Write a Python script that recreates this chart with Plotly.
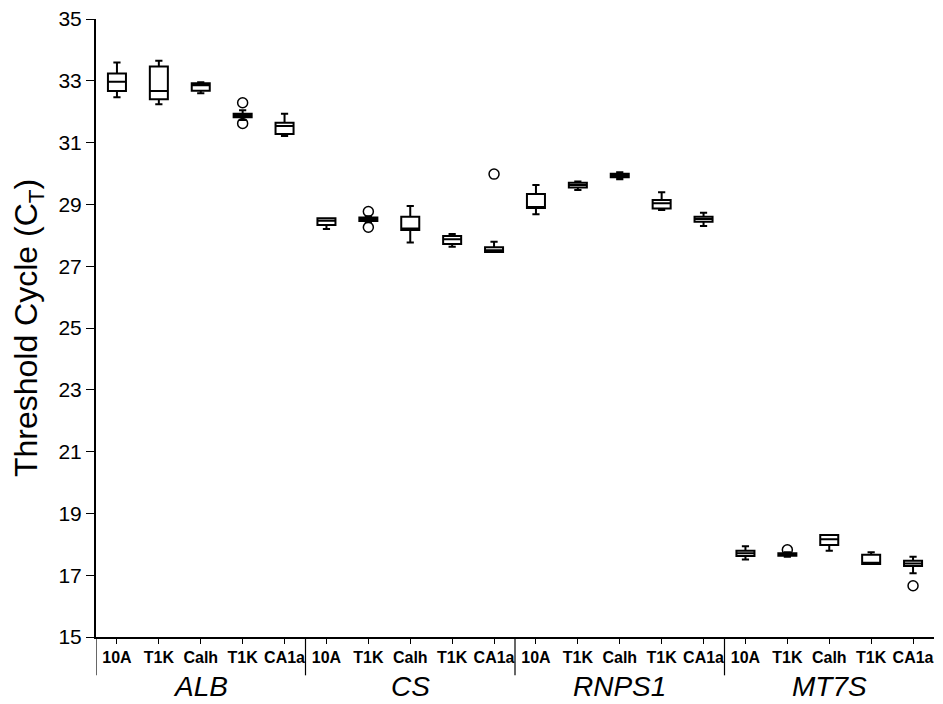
import plotly.graph_objects as go

groups = ["ALB", "CS", "RNPS1", "MT7S"]
cell_lines = ["10A", "T1K", "Calh", "T1K", "CA1a"]

# Box statistics per box (4 genes x 5 cell lines)
upper = [33.59, 33.65, 32.95, 32.05, 31.93,
         28.55, 28.62, 28.95, 28.04, 27.79,
         29.63, 29.74, 30.04, 29.39, 28.73,
         17.94, 17.74, 18.30, 17.74, 17.60]
q3 = [33.24, 33.46, 32.92, 31.93, 31.64,
      28.55, 28.58, 28.60, 27.98, 27.61,
      29.34, 29.70, 29.99, 29.14, 28.60,
      17.79, 17.71, 18.30, 17.66, 17.47]
median = [32.97, 32.67, 32.86, 31.87, 31.54,
          28.47, 28.52, 28.22, 27.87, 27.52,
          28.91, 29.63, 29.94, 29.04, 28.53,
          17.71, 17.67, 18.16, 17.40, 17.38]
q1 = [32.67, 32.40, 32.68, 31.82, 31.28,
      28.33, 28.46, 28.17, 27.72, 27.46,
      28.88, 29.55, 29.88, 28.87, 28.44,
      17.62, 17.63, 17.98, 17.36, 17.30]
lower = [32.47, 32.24, 32.60, 31.73, 31.21,
         28.20, 28.42, 27.77, 27.63, 27.46,
         28.68, 29.47, 29.81, 28.82, 28.30,
         17.51, 17.60, 17.79, 17.36, 17.06]

outlier_x = [3, 3, 6, 6, 9, 16, 19]
outlier_y = [32.29, 31.62, 28.77, 28.26, 29.98, 17.82, 16.66]

positions = list(range(len(q1)))
tick_text = cell_lines * len(groups)

fig = go.Figure()
fig.add_trace(go.Box(
    x=positions, q1=q1, median=median, q3=q3,
    lowerfence=lower, upperfence=upper,
    width=0.43, whiskerwidth=0.4,
    fillcolor="white", line=dict(color="black", width=2),
    boxpoints=False, showlegend=False, hoverinfo="skip",
))
fig.add_trace(go.Scatter(
    x=outlier_x, y=outlier_y, mode="markers",
    marker=dict(symbol="circle-open", size=10, color="black", line=dict(width=1.5)),
    showlegend=False, hoverinfo="skip",
))

# group dividers and labels
for i, g in enumerate(groups):
    center = i * 5 + 2
    fig.add_annotation(x=center, y=-0.1084, xref="x", yref="paper", text=f"<i>{g}</i>",
                       showarrow=False, font=dict(size=28, color="black",
                       family="Liberation Sans, Arial, sans-serif"), yanchor="bottom")
for xd in [-0.5, 4.5, 9.5, 14.5]:
    fig.add_shape(type="line", x0=xd, x1=xd, y0=0, y1=-0.062, xref="x", yref="paper",
                  line=dict(color="black", width=1.2))

fig.update_layout(
    width=927, height=696,
    margin=dict(l=88, r=1, t=11, b=67, autoexpand=False),
    paper_bgcolor="white", plot_bgcolor="white",
    font=dict(family="Liberation Sans, Arial, sans-serif", color="black"),
)
fig.update_xaxes(
    range=[-0.5, 19.5], tickmode="array", tickvals=positions,
    ticktext=[f"<b>{t}</b>" for t in tick_text], tickangle=0,
    tickfont=dict(size=16, color="black", family="Liberation Sans, Arial, sans-serif"),
    ticks="outside", ticklen=5, tickcolor="black", tickwidth=1,
    showline=True, linecolor="black", linewidth=2, showgrid=False, zeroline=False,
    automargin=False, ticklabeloverflow="allow",
)
fig.update_yaxes(
    range=[15, 35], tickmode="array", tickvals=list(range(15, 36, 2)),
    tickfont=dict(size=21, color="black"),
    ticks="outside", ticklen=8, tickcolor="black", tickwidth=1,
    showline=True, linecolor="black", linewidth=2, showgrid=False, zeroline=False,
    title=dict(text="Threshold Cycle (C<sub>T</sub>)", font=dict(size=32, color="black"), standoff=18),
    automargin=False, ticklabeloverflow="allow",
)

fig.write_html("out.html")
